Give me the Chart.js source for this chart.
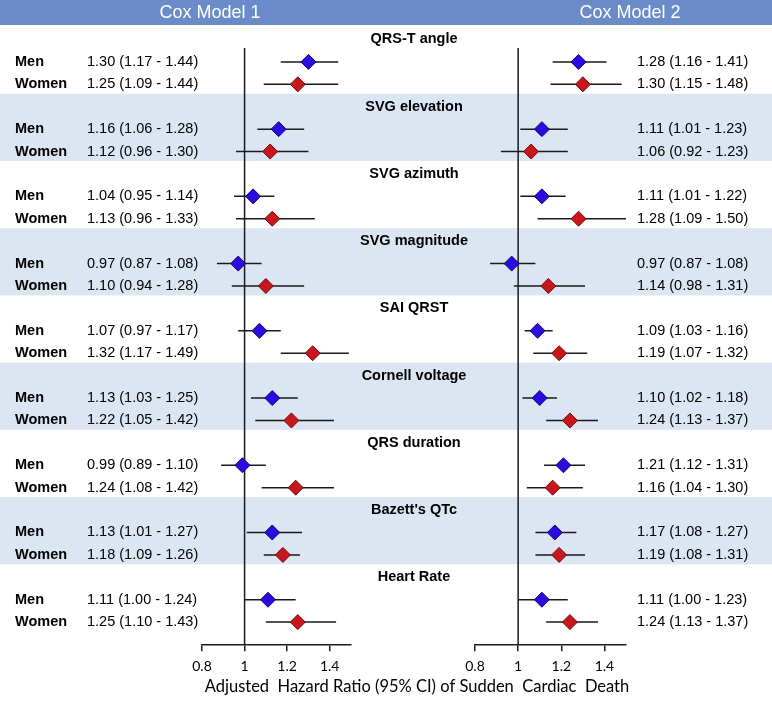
<!DOCTYPE html>
<html>
<head>
<meta charset="utf-8">
<script src="https://cdn.jsdelivr.net/npm/chart.js@4.4.1/dist/chart.umd.min.js"></script>
<style>
  html, body { margin: 0; padding: 0; background: #fff; }
  #wrap { position: relative; width: 772px; height: 707px; }
  #wrap canvas { position: absolute; left: 0; top: 0; }
</style>
</head>
<body>
<div id="wrap">
  <canvas id="model1" width="772" height="707"></canvas>
  <canvas id="model2" width="772" height="707"></canvas>
</div>
<script>
// ── data ──
const GROUPS = ['QRS-T angle', 'SVG elevation', 'SVG azimuth', 'SVG magnitude', 'SAI QRST',
                'Cornell voltage', 'QRS duration', "Bazett's QTc", 'Heart Rate'];
const SEXES = ['Men', 'Women'];
const MODELS = ['Cox Model 1', 'Cox Model 2'];

const M1_MEN_HR   = [1.30, 1.16, 1.04, 0.97, 1.07, 1.13, 0.99, 1.13, 1.11];
const M1_MEN_LO   = [1.17, 1.06, 0.95, 0.87, 0.97, 1.03, 0.89, 1.01, 1.00];
const M1_MEN_HI   = [1.44, 1.28, 1.14, 1.08, 1.17, 1.25, 1.10, 1.27, 1.24];
const M1_WOMEN_HR = [1.25, 1.12, 1.13, 1.10, 1.32, 1.22, 1.24, 1.18, 1.25];
const M1_WOMEN_LO = [1.09, 0.96, 0.96, 0.94, 1.17, 1.05, 1.08, 1.09, 1.10];
const M1_WOMEN_HI = [1.44, 1.30, 1.33, 1.28, 1.49, 1.42, 1.42, 1.26, 1.43];

const M2_MEN_HR   = [1.28, 1.11, 1.11, 0.97, 1.09, 1.10, 1.21, 1.17, 1.11];
const M2_MEN_LO   = [1.16, 1.01, 1.01, 0.87, 1.03, 1.02, 1.12, 1.08, 1.00];
const M2_MEN_HI   = [1.41, 1.23, 1.22, 1.08, 1.16, 1.18, 1.31, 1.27, 1.23];
const M2_WOMEN_HR = [1.30, 1.06, 1.28, 1.14, 1.19, 1.24, 1.16, 1.19, 1.24];
const M2_WOMEN_LO = [1.15, 0.92, 1.09, 0.98, 1.07, 1.13, 1.04, 1.08, 1.13];
const M2_WOMEN_HI = [1.48, 1.23, 1.50, 1.31, 1.32, 1.37, 1.30, 1.31, 1.37];

const X_TICKS = [0.8, 1, 1.2, 1.4];
const X_TITLE = 'Adjusted  Hazard Ratio (95% CI) of Sudden  Cardiac  Death';

const MEN_COLOR = '#2a0be0';
const WOMEN_COLOR = '#c8171c';
const BAND_COLOR = '#dce6f2';
const HEADER_COLOR = '#6a8ac8';
const LABEL_FONT = '14.5px "Liberation Sans", Arial, sans-serif';

// rows: title of group g at 3g, men at 3g+1, women at 3g+2
const rowOf = (g, s) => 3 * g + 1 + s;
const fmt = (hr, lo, hi) => hr.toFixed(2) + ' (' + lo.toFixed(2) + ' - ' + hi.toFixed(2) + ')';

function pointData(hr, s) {
    return hr.map((v, g) => ({ x: v, y: rowOf(g, s) }));
}
function ciData(lo, hi, s, out) {
    lo.forEach((v, g) => {
        out.push({ x: v, y: rowOf(g, s) });
        out.push({ x: hi[g], y: rowOf(g, s) });
        out.push({ x: null, y: null });
    });
    return out;
}

// reference line at HR = 1
const refLine = {
    id: 'refLine',
    beforeDatasetsDraw(chart) {
        const ctx = chart.ctx;
        const x = chart.scales.x.getPixelForValue(1);
        ctx.save();
        ctx.strokeStyle = '#1a1a1a';
        ctx.lineWidth = 1.5;
        ctx.beginPath();
        ctx.moveTo(x, 48);
        ctx.lineTo(x, chart.chartArea.bottom);
        ctx.stroke();
        ctx.restore();
    }
};

// background, bands and all text (drawn by the lower chart only)
const layoutText = {
    id: 'layoutText',
    beforeDraw(chart) {
        const ctx = chart.ctx;
        const y = chart.scales.y;
        ctx.save();
        ctx.fillStyle = '#fff';
        ctx.fillRect(0, 0, chart.width, chart.height);

        GROUPS.forEach((name, g) => {
            if (g % 2 === 1) {
                const top = y.getPixelForValue(3 * g - 0.58);
                const bot = y.getPixelForValue(3 * g + 2.42);
                ctx.fillStyle = BAND_COLOR;
                ctx.fillRect(0, top, chart.width, bot - top);
            }
        });

        ctx.fillStyle = HEADER_COLOR;
        ctx.fillRect(0, 0, chart.width, 25);
        ctx.fillStyle = '#fff';
        ctx.font = '18px "Liberation Sans", Arial, sans-serif';
        ctx.textAlign = 'center';
        ctx.textBaseline = 'middle';
        ctx.fillText(MODELS[0], 210, 13);
        ctx.fillText(MODELS[1], 630, 13);

        ctx.fillStyle = '#000';
        const rows = [
            [M1_MEN_HR, M1_MEN_LO, M1_MEN_HI, M2_MEN_HR, M2_MEN_LO, M2_MEN_HI],
            [M1_WOMEN_HR, M1_WOMEN_LO, M1_WOMEN_HI, M2_WOMEN_HR, M2_WOMEN_LO, M2_WOMEN_HI]
        ];
        GROUPS.forEach((name, g) => {
            ctx.font = 'bold 14.5px "Liberation Sans", Arial, sans-serif';
            ctx.textAlign = 'center';
            ctx.fillText(name, 414, y.getPixelForValue(3 * g));

            rows.forEach((r, s) => {
                const py = y.getPixelForValue(rowOf(g, s));
                ctx.textAlign = 'left';
                ctx.font = 'bold 14.5px "Liberation Sans", Arial, sans-serif';
                ctx.fillText(SEXES[s], 15, py);
                ctx.font = LABEL_FONT;
                ctx.fillText(fmt(r[0][g], r[1][g], r[2][g]), 87, py);
                ctx.fillText(fmt(r[3][g], r[4][g], r[5][g]), 637, py);
            });
        });

        ctx.font = '16.5px Lato, sans-serif';
        ctx.textAlign = 'center';
        ctx.fillText(X_TITLE, 417, 687);
        ctx.restore();
    }
};

function makeChart(id, menHr, menLo, menHi, womenHr, womenLo, womenHi, padLeft, padRight, plugins) {
    const ci = [];
    ciData(menLo, menHi, 0, ci);
    ciData(womenLo, womenHi, 1, ci);
    return new Chart(document.getElementById(id).getContext('2d'), {
        type: 'scatter',
        data: {
            datasets: [
                {
                    label: 'Men',
                    data: pointData(menHr, 0),
                    pointStyle: 'rectRot',
                    pointRadius: 7.5,
                    backgroundColor: MEN_COLOR,
                    borderColor: '#140670',
                    borderWidth: 1,
                    order: 0
                },
                {
                    label: 'Women',
                    data: pointData(womenHr, 1),
                    pointStyle: 'rectRot',
                    pointRadius: 7.5,
                    backgroundColor: WOMEN_COLOR,
                    borderColor: '#6e0b0e',
                    borderWidth: 1,
                    order: 0
                },
                {
                    label: '95% CI',
                    data: ci,
                    showLine: true,
                    spanGaps: false,
                    pointRadius: 0,
                    borderColor: '#1a1a1a',
                    borderWidth: 1.5,
                    order: 1
                }
            ]
        },
        options: {
            responsive: false,
            animation: false,
            devicePixelRatio: 1,
            layout: { padding: { left: padLeft, right: padRight, top: 20, bottom: 25 } },
            plugins: { legend: { display: false }, tooltip: { enabled: false } },
            scales: {
                x: {
                    type: 'linear',
                    min: 0.8,
                    max: 1.5,
                    afterBuildTicks: axis => { axis.ticks = X_TICKS.map(v => ({ value: v })); },
                    grid: { display: true, drawOnChartArea: false, drawTicks: true, tickLength: 6, color: '#1a1a1a', lineWidth: 1.5 },
                    border: { display: true, color: '#1a1a1a', width: 1.5 },
                    ticks: {
                        color: '#000',
                        padding: 7,
                        font: { family: 'Lato', size: 14 },
                        callback: v => String(v)
                    }
                },
                y: {
                    type: 'linear',
                    reverse: true,
                    min: -0.87,
                    max: 27.03,
                    display: false
                }
            }
        },
        plugins: plugins
    });
}

makeChart('model1', M1_MEN_HR, M1_MEN_LO, M1_MEN_HI, M1_WOMEN_HR, M1_WOMEN_LO, M1_WOMEN_HI,
          202, 772 - 351, [layoutText, refLine]);
makeChart('model2', M2_MEN_HR, M2_MEN_LO, M2_MEN_HI, M2_WOMEN_HR, M2_WOMEN_LO, M2_WOMEN_HI,
          475, 772 - 626, [refLine]);
</script>
</body>
</html>
